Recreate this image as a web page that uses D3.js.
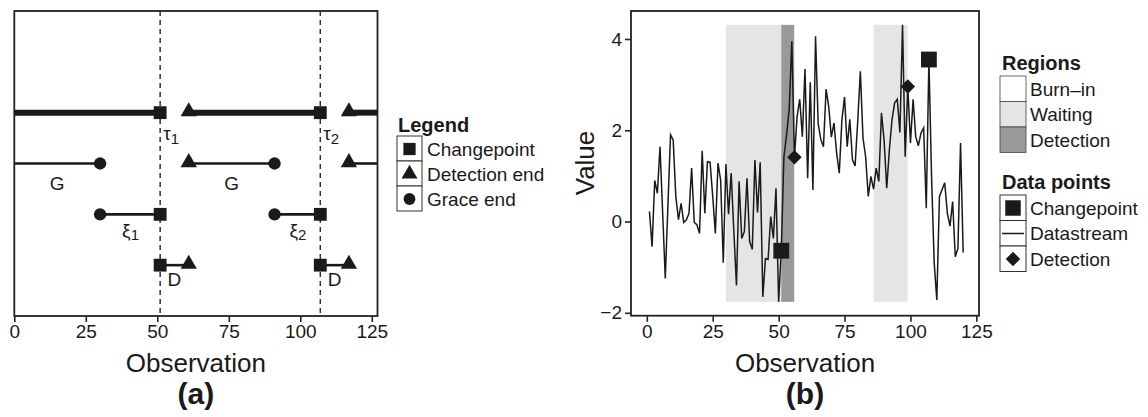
<!DOCTYPE html>
<html>
<head>
<meta charset="utf-8">
<script src="https://cdn.jsdelivr.net/npm/d3@7"></script>
<style>
  body { margin: 0; background: #fff; }
  svg text { font-family: "Liberation Sans", Arial, sans-serif; fill: #1a1a1a; }
</style>
</head>
<body>
<div id="chart"></div>
<script>
// ---- panel (a) data ----
const changepoints = [51, 107];
const detectionEnds = [61, 117];
const graceEnds = [30, 91];
const rowNames = ["tau", "G", "xi", "D"];
const rowLevels = [4, 3, 2, 1];
const tauSegments = [[0, 51], [61, 107], [117, 127]];
const graceSegments = [[0, 30], [61, 91], [117, 127]];
const xiSegments = [[30, 51], [91, 107]];
const dSegments = [[51, 61], [107, 117]];
const ticksA = [0, 25, 50, 75, 100, 125];

// ---- panel (b) data ----
const observations = d3.range(1, 121);
const values = [
  0.22, -0.55, 0.90, 0.62, 1.64, 0.20, -1.25, 0.35, 1.90, 1.79,
  0.55, 0.04, 0.40, -0.02, 0.04, 0.18, 1.17, -0.02, -0.07, -0.26,
  1.55, 0.18, 1.31, 1.30, 0.55, -0.26, 1.28, 0.91, -0.90, 1.26,
  0.16, 1.06, -0.20, -1.40, 0.88, -0.37, -0.22, 0.95, -0.44, -0.61,
  1.35, 0.20, 1.30, -1.65, -0.81, -0.83, 0.11, -0.37, 0.73, -1.76,
  -0.64, 1.42, 1.90, 2.45, 3.95, 1.41, 2.30, 2.68, 1.86, 3.34,
  0.95, 3.05, 0.69, 4.06, 2.14, 1.80, 1.64, 2.90, 2.52, 1.85,
  2.16, 1.50, 1.06, 2.23, 2.73, 1.64, 2.24, 1.35, 1.22, 2.20,
  3.29, 1.83, 1.42, 0.55, 0.99, 0.71, 1.17, 0.88, 2.38, 1.79,
  0.73, 1.57, 2.23, 2.60, 2.68, 1.95, 4.31, 1.42, 2.96, 1.72,
  2.68, 1.86, 1.66, 1.94, 2.05, 0.29, 3.55, 1.00, -0.90, -1.72,
  0.55, 0.70, 0.85, 0.18, -0.10, 0.44, -0.77, -0.59, 1.72, -0.68
];
const regionStart = [0, 30, 51, 56, 86, 99];
const regionEnd = [30, 51, 56, 86, 99, 120];
const regionType = ["Burn\u2013in", "Waiting", "Detection", "Burn\u2013in", "Waiting", "Burn\u2013in"];
const regionNames = ["Burn\u2013in", "Waiting", "Detection"];
const regionColors = ["#ffffff", "#e5e5e5", "#999999"];
const cpObs = [51, 107];
const detObs = [56, 99];
const ticksBx = [0, 25, 50, 75, 100, 125];
const ticksBy = [-2, 0, 2, 4];

const ink = "#1a1a1a";
const svg = d3.select("#chart").append("svg")
  .attr("width", 1148).attr("height", 417);

// ================= panel (a) =================
const xA = d3.scaleLinear().domain([0, 127]).range([14.3, 377.5]);
const yA = d3.scaleLinear().domain([0, 6]).range([316, 11]);
const gA = svg.append("g");

// dashed changepoint lines
gA.selectAll(".cpline").data(changepoints).enter().append("line")
  .attr("x1", d => xA(d)).attr("x2", d => xA(d))
  .attr("y1", yA(6)).attr("y2", yA(0))
  .attr("stroke", "#333").attr("stroke-width", 1.5)
  .attr("stroke-dasharray", "5,4");

const segRows = [tauSegments, graceSegments, xiSegments, dSegments];
segRows.forEach((segs, i) => {
  gA.selectAll(".seg" + i).data(segs).enter().append("line")
    .attr("x1", d => xA(d[0])).attr("x2", d => xA(d[1]))
    .attr("y1", yA(rowLevels[i])).attr("y2", yA(rowLevels[i]))
    .attr("stroke", ink).attr("stroke-width", i === 0 ? 6 : 2.6);
});

const sq = d3.symbol().type(d3.symbolSquare).size(165);
const tri = d3.symbol().type(d3.symbolTriangle).size(115);
const circ = d3.symbol().type(d3.symbolCircle).size(120);

function pts(arr, level, sym) {
  gA.append("g").selectAll("path").data(arr).enter().append("path")
    .attr("d", sym)
    .attr("transform", d => `translate(${xA(d)},${yA(level) + (sym === tri ? -1 : 0)})`)
    .attr("fill", ink);
}
pts(changepoints, 4, sq); pts(detectionEnds, 4, tri);
pts(graceEnds, 3, circ); pts(detectionEnds, 3, tri);
pts(graceEnds, 2, circ); pts(changepoints, 2, sq);
pts(changepoints, 1, sq); pts(detectionEnds, 1, tri);

// labels
changepoints.forEach((c, i) => {
  const t = gA.append("text").attr("x", xA(c) + 3).attr("y", yA(4) + 27)
    .attr("font-size", 19).text("\u03c4");
  t.append("tspan").attr("dy", 4).attr("font-size", 15).text(i + 1);
});
[[0, 30], [61, 91]].forEach(s => {
  gA.append("text").attr("x", xA((s[0] + s[1]) / 2)).attr("y", yA(3) + 26)
    .attr("text-anchor", "middle").attr("font-size", 19).text("G");
});
xiSegments.forEach((s, i) => {
  const t = gA.append("text").attr("x", xA((s[0] + s[1]) / 2) - 8).attr("y", yA(2) + 23)
    .attr("font-size", 19).text("\u03be");
  t.append("tspan").attr("dy", 3).attr("font-size", 15).text(i + 1);
});
dSegments.forEach(s => {
  gA.append("text").attr("x", xA((s[0] + s[1]) / 2)).attr("y", yA(1) + 21)
    .attr("text-anchor", "middle").attr("font-size", 19).text("D");
});

// border + axis
gA.append("rect").attr("x", xA(0)).attr("y", yA(6))
  .attr("width", xA(127) - xA(0)).attr("height", yA(0) - yA(6))
  .attr("fill", "none").attr("stroke", "#222").attr("stroke-width", 1.8);
const axA = gA.append("g").attr("transform", `translate(0,${yA(0)})`)
  .call(d3.axisBottom(xA).tickValues(ticksA).tickSize(6).tickSizeOuter(0).tickPadding(3));
axA.select(".domain").remove();
axA.selectAll(".tick line").attr("stroke", "#222").attr("stroke-width", 1.6);
axA.selectAll(".tick text").attr("font-size", 19).attr("fill", ink)
  .style("font-family", "Liberation Sans, Arial, sans-serif");

gA.append("text").attr("x", (xA(0) + xA(127)) / 2).attr("y", 372)
  .attr("text-anchor", "middle").attr("font-size", 26).text("Observation");
gA.append("text").attr("x", (xA(0) + xA(127)) / 2).attr("y", 404)
  .attr("text-anchor", "middle").attr("font-size", 30).attr("font-weight", "bold").text("(a)");

// legend (a)
const legA = svg.append("g").attr("transform", "translate(397,136)");
legA.append("text").attr("x", 1).attr("y", -4).attr("font-size", 20)
  .attr("font-weight", "bold").text("Legend");
const legAItems = [["Changepoint", sq], ["Detection end", tri], ["Grace end", circ]];
legAItems.forEach((it, i) => {
  const g = legA.append("g").attr("transform", `translate(0,${i * 25})`);
  g.append("rect").attr("width", 25).attr("height", 25)
    .attr("fill", "#fff").attr("stroke", "#333").attr("stroke-width", 1);
  g.append("path").attr("d", d3.symbol().type(
      it[1] === sq ? d3.symbolSquare : it[1] === tri ? d3.symbolTriangle : d3.symbolCircle)
      .size(it[1] === sq ? 150 : 110))
    .attr("transform", "translate(12.5,13)").attr("fill", ink);
  g.append("text").attr("x", 30).attr("y", 19.5).attr("font-size", 19).text(it[0]);
});

// ================= panel (b) =================
const xB = d3.scaleLinear().domain([-6, 126]).range([631, 979]);
const vMin = d3.min(values), vMax = d3.max(values);
const pad = (vMax - vMin) * 0.05;
const yB = d3.scaleLinear().domain([vMin - pad, vMax + pad]).range([315.7, 11]);
const gB = svg.append("g");
const regionColor = d3.scaleOrdinal().domain(regionNames).range(regionColors);

gB.selectAll(".region").data(regionStart).enter().append("rect")
  .attr("x", (d, i) => xB(d))
  .attr("width", (d, i) => xB(regionEnd[i]) - xB(d))
  .attr("y", yB(vMax)).attr("height", yB(vMin) - yB(vMax))
  .attr("fill", (d, i) => regionColor(regionType[i]));

const line = d3.line().x((d, i) => xB(observations[i])).y(d => yB(d));
gB.append("path").datum(values).attr("d", line)
  .attr("fill", "none").attr("stroke", ink).attr("stroke-width", 1.5)
  .attr("stroke-linejoin", "miter");

gB.selectAll(".cp").data(cpObs).enter().append("path")
  .attr("d", d3.symbol().type(d3.symbolSquare).size(250))
  .attr("transform", d => `translate(${xB(d)},${yB(values[d - 1])})`)
  .attr("fill", ink);
const diamond = d3.symbol().type(d3.symbolSquare).size(105);
gB.selectAll(".det").data(detObs).enter().append("path")
  .attr("d", diamond)
  .attr("transform", d => `translate(${xB(d)},${yB(values[d - 1])}) rotate(45)`)
  .attr("fill", ink);

gB.append("rect").attr("x", 631).attr("y", 11)
  .attr("width", 979 - 631).attr("height", 315.7 - 11)
  .attr("fill", "none").attr("stroke", "#222").attr("stroke-width", 1.8);

const intFmt = d => (d < 0 ? "\u2212" : "") + Math.abs(d);
const axBx = gB.append("g").attr("transform", "translate(0,315.7)")
  .call(d3.axisBottom(xB).tickValues(ticksBx).tickFormat(intFmt)
    .tickSize(6).tickSizeOuter(0).tickPadding(3));
const axBy = gB.append("g").attr("transform", "translate(631,0)")
  .call(d3.axisLeft(yB).tickValues(ticksBy).tickFormat(intFmt)
    .tickSize(6).tickSizeOuter(0).tickPadding(3));
[axBx, axBy].forEach(ax => {
  ax.select(".domain").remove();
  ax.selectAll(".tick line").attr("stroke", "#222").attr("stroke-width", 1.6);
  ax.selectAll(".tick text").attr("font-size", 19).attr("fill", ink)
    .style("font-family", "Liberation Sans, Arial, sans-serif");
});

gB.append("text").attr("x", 805).attr("y", 372)
  .attr("text-anchor", "middle").attr("font-size", 26).text("Observation");
gB.append("text").attr("x", 805).attr("y", 404)
  .attr("text-anchor", "middle").attr("font-size", 30).attr("font-weight", "bold").text("(b)");
gB.append("text").attr("transform", "translate(594,163) rotate(-90)")
  .attr("text-anchor", "middle").attr("font-size", 26).text("Value");

// legend (b)
const legB = svg.append("g").attr("transform", "translate(1000,76)");
legB.append("text").attr("x", 2).attr("y", -6).attr("font-size", 20)
  .attr("font-weight", "bold").text("Regions");
regionNames.forEach((r, i) => {
  const g = legB.append("g").attr("transform", `translate(0,${i * 25.5})`);
  g.append("rect").attr("width", 26).attr("height", 25.5)
    .attr("fill", regionColor(r)).attr("stroke", "#444").attr("stroke-width", 0.8);
  g.append("text").attr("x", 30).attr("y", 19.5).attr("font-size", 19).text(r);
});
const legB2 = svg.append("g").attr("transform", "translate(1000,195)");
legB2.append("text").attr("x", 2).attr("y", -6).attr("font-size", 20)
  .attr("font-weight", "bold").text("Data points");
const pointNames = ["Changepoint", "Datastream", "Detection"];
pointNames.forEach((p, i) => {
  const g = legB2.append("g").attr("transform", `translate(0,${i * 25.5})`);
  g.append("rect").attr("width", 26).attr("height", 25.5)
    .attr("fill", "#fff").attr("stroke", "#333").attr("stroke-width", 1);
  if (i === 0) {
    g.append("path").attr("d", d3.symbol().type(d3.symbolSquare).size(240))
      .attr("transform", "translate(13,13)").attr("fill", ink);
  } else if (i === 1) {
    g.append("line").attr("x1", 2).attr("x2", 24).attr("y1", 13).attr("y2", 13)
      .attr("stroke", ink).attr("stroke-width", 1.5);
  } else {
    g.append("path").attr("d", diamond)
      .attr("transform", "translate(13,13) rotate(45)").attr("fill", ink);
  }
  g.append("text").attr("x", 30).attr("y", 19.5).attr("font-size", 19).text(p);
});
</script>
</body>
</html>
